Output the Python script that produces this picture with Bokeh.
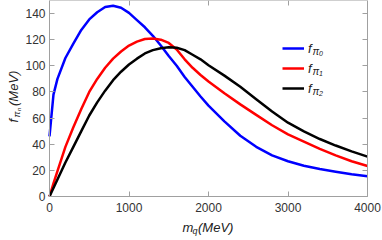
from bokeh.plotting import figure
from bokeh.models import Range1d, LinearAxis, Label, Legend, LegendItem, ColumnDataSource
from bokeh.embed import file_html
from bokeh.resources import INLINE
import math

# ---- data ----
mq = [0, 50, 100, 200, 300, 400, 500, 600, 700, 800, 900, 1000, 1100, 1200, 1300,
      1400, 1500, 1600, 1700, 1800, 1900, 2000, 2200, 2400, 2600, 2800, 3000, 3200,
      3400, 3600, 3800, 4000]
f_pi0 = [46, 78, 90, 106, 117, 127.5, 135.5, 141, 145, 146, 144.5, 140.5, 135, 129.5, 123,
         115.5, 107.5, 100, 91.5, 84, 76.5, 69.5, 57.5, 46.5, 38, 31.5, 27, 23.5,
         21, 19, 17, 15.5]
f_pi1 = [0, 10, 19.5, 38, 53, 67, 80, 90, 98.5, 105.5, 111, 115.5, 118.5, 120.5, 121,
         120, 117.5, 112.5, 105, 98.5, 93, 88, 79, 70.5, 62.5, 54.5, 47.5, 42,
         36.5, 31.5, 27, 23.3]
f_pi2 = [0, 6.5, 13, 26, 38, 50, 62, 72, 81, 89, 95.5, 101, 105.5, 109.5, 112,
         113.5, 114.2, 113.8, 112, 108.5, 105, 100.5, 92.5, 84, 74.5, 65, 56.5, 49.8,
         44, 39, 34.5, 30.5]
series_names = ["0", "1", "2"]
series_colors = ["#0000ff", "#ff0000", "#000000"]
x_ticks = [0, 1000, 2000, 3000, 4000]
y_ticks = [0, 20, 40, 60, 80, 100, 120, 140]
X_MAX, Y_MAX = 4000, 150

FONT = "Liberation Sans"
W, H = 382, 240
# plot box on the canvas (pixels)
BL, BR, BT, BB = 49, 367, 0, 196
sx = (BR - BL) / X_MAX
sy = (BB - BT) / Y_MAX

p = figure(width=W, height=H, output_backend="svg", toolbar_location=None,
           x_range=Range1d(-BL / sx, X_MAX + (W - BR) / sx),
           y_range=Range1d(-(H - BB) / sy, Y_MAX + BT / sy),
           min_border_left=0, min_border_right=0, min_border_top=0, min_border_bottom=0,
           x_axis_location=None, y_axis_location=None)
p.xgrid.visible = False
p.ygrid.visible = False
p.outline_line_color = None
p.background_fill_color = "white"
p.border_fill_color = "white"


def style_axis(ax, show_labels):
    ax.axis_line_color = "#a0a0a0"
    ax.axis_line_width = 1
    ax.major_tick_line_color = "#a0a0a0"
    ax.minor_tick_line_color = "#a0a0a0"
    ax.major_tick_in = 5
    ax.major_tick_out = 0
    ax.minor_tick_in = 3
    ax.minor_tick_out = 0
    ax.major_label_text_font = FONT
    ax.major_label_text_font_size = "12px"
    ax.major_label_text_color = "#333333"
    if not show_labels:
        ax.major_label_text_alpha = 0
        ax.major_label_text_font_size = "0px"
        ax.major_label_standoff = 0


def make_axis(ticks, minor, bounds, loc, show):
    ax = LinearAxis(ticker=ticks, bounds=bounds, fixed_location=loc)
    ax.ticker.num_minor_ticks = minor
    style_axis(ax, show)
    return ax


xb = make_axis(x_ticks, 5, (0, X_MAX), 0, True)
xt = make_axis(x_ticks, 5, (0, X_MAX), Y_MAX, False)
yl = make_axis(y_ticks, 4, (0, Y_MAX), 0, True)
yr = make_axis(y_ticks, 4, (0, Y_MAX), X_MAX, False)
xb.major_label_standoff = 6
yl.major_label_standoff = 4
p.add_layout(xb, "below")
p.add_layout(xt, "above")
p.add_layout(yl, "left")
p.add_layout(yr, "right")

src = ColumnDataSource(dict(mq=mq, f0=f_pi0, f1=f_pi1, f2=f_pi2))
renderers = []
for col, c in zip(["f0", "f1", "f2"], series_colors):
    r = p.line("mq", col, source=src, line_color=c, line_width=2.5)
    renderers.append(r)

legend = Legend(items=[LegendItem(label="f", renderers=[r]) for r in renderers],
                location=(282, 142), padding=0, margin=0, spacing=0,
                glyph_width=22, glyph_height=20, label_height=20, label_standoff=4,
                border_line_color=None, background_fill_alpha=0,
                label_text_font=FONT, label_text_font_size="13px",
                label_text_font_style="italic", label_text_color="#222222")
p.add_layout(legend)


# helpers: canvas pixel -> data coordinate for placing text pieces
def dx(px):
    return (px - BL) / sx


def dy(py):
    return (BB - py) / sy


def lab(px, py, text, size, angle=0, color="#222222"):
    p.add_layout(Label(x=dx(px), y=dy(py), text=text, text_font=FONT,
                       text_font_size=size, text_font_style="italic",
                       text_color=color, text_align="left", text_baseline="middle",
                       angle=angle))


# legend subscripts
for i, n in enumerate(series_names):
    row = 47.5 + 20 * i
    lab(312, row + 3, "π", "10px")
    lab(318.5, row + 5.5, n, "7px")

# x-axis title m_q(MeV)
lab(182, 227, "m", "13px")
lab(192, 230.5, "q", "9px")
lab(197.5, 227, "(MeV)", "13px")

# y-axis title f_{pi_n}(MeV)
a = math.pi / 2
lab(13, 122, "f", "13px", a)
lab(16.5, 117, "π", "9px", a)
lab(18.5, 110.5, "n", "6px", a)
lab(13, 105.5, "(MeV)", "13px", a)

open("out.html", "w").write(file_html(p, INLINE))
